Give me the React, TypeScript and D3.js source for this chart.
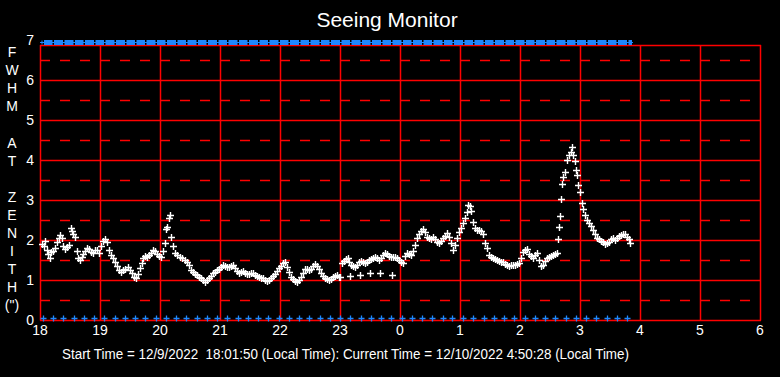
import React from "react";
import * as d3 from "d3";

// minutes after 18:00 (local time) and FWHM at zenith (arcsec)
const times: number[] = [
  2, 3.5, 5, 6.5, 8, 10, 11.5, 13, 15, 17, 18.5, 20, 21.5, 23, 25, 27, 29, 30.5, 31.5, 33, 35, 36.5, 38, 40, 41.5, 43, 45, 47, 49, 51, 53, 55, 57, 59,
  61, 63, 65, 67, 69, 71, 73, 75, 77, 79, 81, 83, 85, 88, 90, 92, 94, 96, 98, 100, 101.5, 103, 105, 107, 109, 111, 113, 115, 117, 119,
  121, 123, 124.5, 126, 127, 128.5, 129.5, 131, 133, 135, 137, 140, 142, 145, 147, 149, 151, 153, 155, 157, 159, 161, 163, 165, 167, 169, 171, 173, 175, 177, 179,
  181, 183, 185, 187, 189, 191, 193, 195, 197, 199, 201, 203, 205, 207, 209, 211, 213, 215, 217, 219, 221, 223, 225, 227, 229, 231, 233, 235, 237, 239,
  241, 243, 245, 247, 249, 251, 253, 255, 257, 259, 261, 263, 265, 267, 269, 271, 273, 275, 277, 279, 281, 283, 285, 287, 289, 291, 293, 295, 297, 299,
  300, 302, 304, 306, 307.5, 309, 310, 311, 313, 315, 317, 319, 320, 321, 323, 325, 327, 329, 330, 331, 333, 335, 337, 339, 340, 341, 343, 345, 347, 349, 351, 351.5, 353, 355, 357, 359,
  361, 363, 365, 367, 369, 371, 373, 375, 377, 379, 381, 383, 385, 387, 389, 391, 393, 395, 397, 399, 401, 403, 405, 407, 409, 411, 413, 415, 417, 419,
  421, 423, 425, 427, 428, 429.5, 431, 433, 435, 437, 439, 441, 443, 445, 447, 449, 451, 453, 455, 457, 459, 461, 463, 465, 467, 469, 471, 473, 475, 477, 479,
  481, 483, 485, 487, 489, 491, 493, 495, 497, 499, 501, 503, 505, 507, 509, 511, 513, 515, 517, 518, 519, 520, 521, 522, 523, 525, 527, 529, 531, 532, 533, 535, 536, 537, 538,
  540, 542, 543, 545, 547, 549, 551, 553, 555, 557, 559, 561, 563, 565, 567, 569, 571, 573, 575, 577, 579, 581, 583, 585, 587, 589, 590,
];
const fwhm: number[] = [
  1.9, 1.85, 1.98, 1.75, 1.65, 1.55, 1.7, 1.72, 1.8, 1.95, 2.05, 2.12, 2.05, 1.85, 1.78, 1.83, 1.88, 2.3, 2.22, 2.15, 2.08, 1.72, 1.55, 1.5, 1.58, 1.65, 1.72, 1.8, 1.78, 1.7, 1.68, 1.75, 1.74, 1.68,
  1.85, 1.98, 2.02, 1.95, 1.75, 1.62, 1.55, 1.45, 1.35, 1.25, 1.2, 1.24, 1.28, 1.33, 1.26, 1.17, 1.08, 1.04, 1.15, 1.3, 1.42, 1.56, 1.6, 1.58, 1.62, 1.68, 1.75, 1.72, 1.66, 1.6,
  1.57, 1.72, 1.92, 2.28, 2.32, 2.55, 2.62, 2.08, 1.85, 1.68, 1.62, 1.58, 1.55, 1.5, 1.44, 1.38, 1.24, 1.2, 1.16, 1.12, 1.08, 1.05, 1.0, 0.96, 1.0, 1.06, 1.1, 1.17, 1.21, 1.24, 1.28,
  1.33, 1.37, 1.34, 1.33, 1.32, 1.35, 1.37, 1.3, 1.22, 1.17, 1.2, 1.22, 1.18, 1.15, 1.16, 1.18, 1.17, 1.13, 1.1, 1.08, 1.06, 1.04, 1.0, 0.97, 1.0, 1.06, 1.1, 1.15, 1.22, 1.3,
  1.36, 1.42, 1.45, 1.32, 1.2, 1.08, 1.02, 0.98, 0.96, 1.0, 1.08, 1.18, 1.28, 1.27, 1.24, 1.28, 1.34, 1.4, 1.35, 1.27, 1.18, 1.1, 1.05, 1.02, 1.0, 1.03, 1.07, 1.1, 1.12, 1.08,
  1.07, 1.42, 1.47, 1.52, 1.55, 1.45, 1.1, 1.38, 1.35, 1.32, 1.38, 1.45, 1.12, 1.47, 1.44, 1.42, 1.46, 1.5, 1.18, 1.52, 1.55, 1.57, 1.55, 1.5, 1.18, 1.55, 1.62, 1.67, 1.64, 1.6, 1.58, 1.12, 1.57, 1.57, 1.54, 1.5,
  1.46, 1.43, 1.6, 1.67, 1.65, 1.62, 1.72, 1.88, 2.05, 2.15, 2.22, 2.27, 2.2, 2.08, 2.05, 2.02, 2.08, 2.02, 1.95, 1.92, 1.98, 2.04, 2.1, 2.17, 2.08, 1.92, 1.76, 1.88, 2.04, 2.2,
  2.3, 2.42, 2.55, 2.7, 2.88, 2.85, 2.72, 2.46, 2.3, 2.24, 2.26, 2.22, 2.15, 1.92, 1.8, 1.62, 1.58, 1.54, 1.52, 1.5, 1.48, 1.46, 1.44, 1.4, 1.37, 1.36, 1.37, 1.38, 1.38, 1.4, 1.42,
  1.54, 1.7, 1.76, 1.77, 1.66, 1.6, 1.55, 1.62, 1.67, 1.5, 1.36, 1.38, 1.48, 1.55, 1.58, 1.6, 1.63, 1.66, 1.68, 2.02, 2.32, 2.6, 3.02, 3.4, 3.57, 3.7, 4.0, 4.12, 4.2, 4.32, 4.12, 3.98, 3.75, 3.62, 3.37,
  3.2, 2.92, 2.77, 2.62, 2.5, 2.42, 2.34, 2.25, 2.14, 2.06, 2.02, 1.98, 1.94, 1.9, 1.92, 1.96, 2.02, 2.04, 2.0, 2.05, 2.1, 2.12, 2.14, 2.15, 2.08, 2.03, 1.93,
];

// status sample times (minutes after 18:00)
const statusTimes: number[] = [
  2.5, 12.5, 23, 33.5, 43.5, 54, 64, 74.5, 85, 95, 105, 115.5, 125.5, 136, 146, 156.5, 166.5, 177, 187, 197.5,
  207.5, 218, 228, 238.5, 248.5, 259, 269, 279.5, 289.5, 300, 310, 320.5, 330.5, 341, 351, 361.5, 371.5, 382, 392, 402.5,
  412.5, 423, 433, 443.5, 453.5, 464, 474, 484.5, 494.5, 505, 515, 525.5, 535.5, 546, 556, 566.5, 576.5, 587,
];

const hourLabels: string[] = ["18", "19", "20", "21", "22", "23", "0", "1", "2", "3", "4", "5", "6"];
const yTicks: number[] = [0, 1, 2, 3, 4, 5, 6, 7];
const yHalf: number[] = [0.5, 1.5, 2.5, 3.5, 4.5, 5.5, 6.5];
const axisLetters: string[] = ["F", "W", "H", "M", "", "A", "T", "", "Z", "E", "N", "I", "T", "H", "(\")"];
const title = "Seeing Monitor";
const footer = "Start Time = 12/9/2022  18:01:50 (Local Time): Current Time = 12/10/2022 4:50:28 (Local Time)";

const W = 780;
const H = 377;
const FONT = "'Liberation Sans', Arial, sans-serif";
const RED = "#ff0000";
const BLUE = "#1e88ff";

export default function App() {
  const x = d3.scaleLinear().domain([0, 720]).range([40, 760]);
  const y = d3.scaleLinear().domain([0, 7]).range([320, 40]);
  const frameTop = y(6.875);

  const cross = (cx: number, cy: number, r: number) => `M${cx - r},${cy}H${cx + r}M${cx},${cy - r}V${cy + r}`;

  const whitePath = times.map((t, i) => cross(Math.round(x(t)) + 0.5, Math.round(y(fwhm[i])) + 0.5, 3.5)).join("");
  const bluePath = statusTimes.map((t) => cross(Math.round(x(t)) + 0.5, Math.round(y(0.05)) + 0.5, 3)).join("");

  return (
    <svg width={W} height={H} style={{ position: "absolute", left: 0, top: 0 }} fontFamily={FONT}>
      <rect x={0} y={0} width={W} height={H} fill="#000" />
      <text x={387} y={27} fill="#fff" fontSize={21} textAnchor="middle">{title}</text>

      {/* dashed half-grid */}
      {yHalf.map((v) => (
        <line key={"h" + v} x1={40} x2={760} y1={Math.round(y(v)) + 0.5} y2={Math.round(y(v)) + 0.5}
          stroke={RED} strokeWidth={1.5} strokeDasharray="10 10" />
      ))}
      {/* solid horizontal grid */}
      {yTicks.filter((v) => v > 0 && v < 7).map((v) => (
        <line key={"s" + v} x1={40} x2={760} y1={Math.round(y(v)) + 0.5} y2={Math.round(y(v)) + 0.5} stroke={RED} strokeWidth={1.5} />
      ))}
      {/* vertical grid */}
      {hourLabels.map((_, i) => (
        <line key={"v" + i} x1={Math.round(x(i * 60)) + 0.5} x2={Math.round(x(i * 60)) + 0.5} y1={frameTop} y2={y(0) + 0.5}
          stroke={RED} strokeWidth={1.5} />
      ))}
      <line x1={40} x2={761} y1={Math.round(frameTop) + 0.5} y2={Math.round(frameTop) + 0.5} stroke={RED} strokeWidth={1.5} />
      <line x1={40} x2={761} y1={y(0) + 0.5} y2={y(0) + 0.5} stroke={RED} strokeWidth={1.5} />

      {/* top status bar */}
      <line x1={x(0)} x2={x(statusTimes[statusTimes.length - 1]) + 6} y1={y(7) + 2.5} y2={y(7) + 2.5} stroke={BLUE} strokeWidth={1} />
      {statusTimes.map((t, i) => {
        const x0 = x(t) + 1.5;
        const next = i < statusTimes.length - 1 ? x(statusTimes[i + 1]) : x(t) + 5;
        return <rect key={"b" + i} x={x0} y={y(7)} width={Math.max(2, next - x(t) - 1.5)} height={5} fill={BLUE} />;
      })}
      <path d={cross(x(statusTimes[0]) - 0.5, y(7) + 2.5, 2)} stroke={BLUE} strokeWidth={1} />

      {/* bottom status markers */}
      <path d={bluePath} stroke={BLUE} strokeWidth={1.3} fill="none" />

      {/* data */}
      <path d={whitePath} stroke="#fff" strokeWidth={1.4} fill="none" />

      {/* y tick labels */}
      {yTicks.map((v) => (
        <text key={"yt" + v} x={34} y={y(v) + 5} fill="#fff" fontSize={14} textAnchor="end">{v}</text>
      ))}
      {/* x tick labels */}
      {hourLabels.map((lab, i) => (
        <text key={"xt" + i} x={x(i * 60)} y={335} fill="#fff" fontSize={14} textAnchor="middle">{lab}</text>
      ))}
      {/* vertical axis title */}
      {axisLetters.map((c, i) => (
        <text key={"al" + i} x={12} y={57 + i * 18.1} fill="#fff" fontSize={14} textAnchor="middle">{c}</text>
      ))}
      <text x={62} y={359} fill="#fff" fontSize={14} textLength={567} lengthAdjust="spacingAndGlyphs" style={{ whiteSpace: "pre" }}>{footer}</text>
    </svg>
  );
}
